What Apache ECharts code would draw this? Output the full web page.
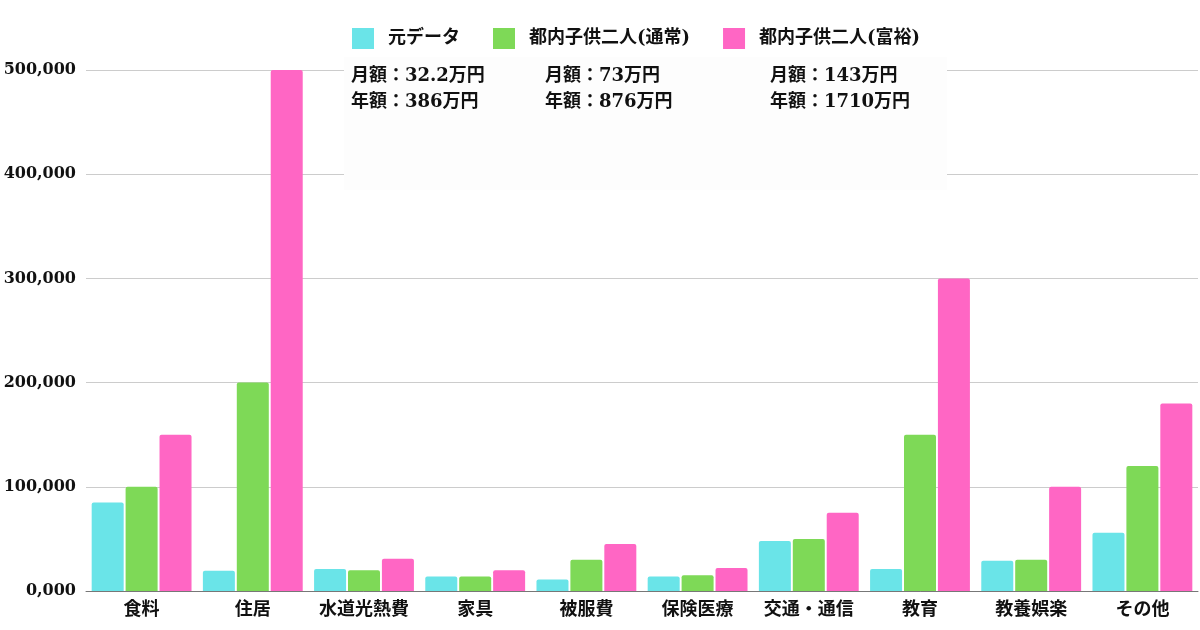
<!DOCTYPE html>
<html>
<head>
<meta charset="utf-8">
<script src="https://cdn.jsdelivr.net/npm/echarts@6/dist/echarts.min.js"></script>
<style>
html,body{margin:0;padding:0;background:#fff;}
#c{width:1200px;height:630px;}
</style>
</head>
<body>
<div id="c"></div>
<script>
const categories = ['食料','住居','水道光熱費','家具','被服費','保険医療','交通・通信','教育','教養娯楽','その他'];
const seriesNames = ['元データ','都内子供二人(通常)','都内子供二人(富裕)'];
const baseData   = [85000, 19500, 21000, 14000, 11000, 14000, 48000, 21000, 29000, 56000];
const normalData = [100000, 200000, 20000, 14000, 30000, 15000, 50000, 150000, 30000, 120000];
const richData   = [150000, 500000, 31000, 20000, 45000, 22000, 75000, 300000, 100000, 180000];
const yTickLabels = ['0,000','100,000','200,000','300,000','400,000','500,000'];
const noteLines = [
  ['月額：32.2万円','年額：386万円'],
  ['月額：73万円','年額：876万円'],
  ['月額：143万円','年額：1710万円']
];
const colors = ['#6ae4e8','#7ed957','#ff66c4'];

const FONT = "'DejaVu Serif','Noto Sans CJK JP',serif";
const chart = echarts.init(document.getElementById('c'), null, {renderer:'canvas'});

const noteX = [351, 545, 770];
const noteY = [76, 102];
const graphics = [{
  type:'rect', z:10,
  shape:{x:344, y:57, width:603, height:133},
  style:{fill:'#fdfdfd'}
}];
noteLines.forEach((col,i)=>{
  col.forEach((t,j)=>{
    graphics.push({
      type:'text', z:11, x:noteX[i], y:noteY[j],
      style:{text:t, font:"bold 18px " + FONT, fill:'#111', textVerticalAlign:'middle', textAlign:'left'}
    });
  });
});

const mk = (name, data, color) => ({
  name, type:'bar', data, barWidth:32, barGap:'6%',
  itemStyle:{color, borderRadius:[2,2,0,0]}
});

chart.setOption({
  animation:false,
  backgroundColor:'#ffffff',
  color:colors,
  legend:{
    left:347, top:23, itemWidth:22, itemHeight:21, itemGap:33, icon:'rect',
    textStyle:{fontFamily:FONT, fontWeight:'bold', fontSize:18, color:'#111', padding:[0,0,0,9]},
    data:seriesNames
  },
  grid:{left:86, right:2, top:70, bottom:39, containLabel:false},
  xAxis:{
    type:'category', data:categories,
    axisLine:{lineStyle:{color:'#777', width:1}},
    axisTick:{show:false},
    axisLabel:{fontFamily:FONT, fontWeight:'bold', fontSize:18, color:'#111', margin:10, interval:0}
  },
  yAxis:{
    type:'value', min:0, max:500000, interval:100000,
    axisLine:{show:false}, axisTick:{show:false},
    splitLine:{lineStyle:{color:'#cccccc', width:1}},
    axisLabel:{fontFamily:FONT, fontWeight:'bold', fontSize:16, color:'#111', margin:10,
      formatter:(v)=>yTickLabels[Math.round(v/100000)]}
  },
  graphic:graphics,
  series:[mk(seriesNames[0], baseData, colors[0]), mk(seriesNames[1], normalData, colors[1]), mk(seriesNames[2], richData, colors[2])]
});
</script>
</body>
</html>
